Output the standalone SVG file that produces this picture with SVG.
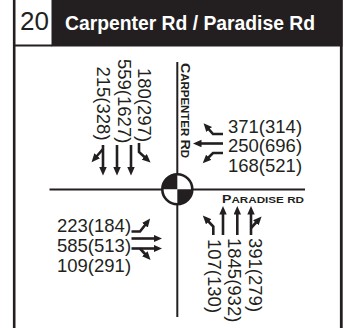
<svg xmlns="http://www.w3.org/2000/svg" width="344" height="328" viewBox="0 0 344 328">
<style>
.num{font-family:"Liberation Sans",Arial,sans-serif;font-size:18.5px;fill:#231f20}
.road{font-family:"Liberation Sans",Arial,sans-serif;font-weight:bold;fill:#231f20}
.ln{stroke:#231f20;stroke-width:2;fill:none}
.arr{stroke:#231f20;stroke-width:2.6;fill:none;marker-end:url(#ah)}
</style>
<defs>
<marker id="ah" markerUnits="userSpaceOnUse" markerWidth="9" markerHeight="8" refX="1" refY="3.75" orient="auto">
<path d="M0,0 L8.5,3.75 L0,7.5 z" fill="#231f20"/>
</marker>
</defs>
<rect width="344" height="328" fill="#fff"/>
<g id="frame">
<rect x="51.5" y="0" width="291" height="46.5" fill="#231f20"/>
<line x1="14.2" y1="0" x2="14.2" y2="328" stroke="#231f20" stroke-width="2.6"/>
<line x1="341.3" y1="0" x2="341.3" y2="328" stroke="#231f20" stroke-width="2.8"/>
<line x1="14" y1="45.5" x2="52" y2="45.5" stroke="#231f20" stroke-width="2"/>
<text x="20" y="30" font-family="Liberation Sans, Arial, sans-serif" font-size="26" fill="#231f20">20</text>
<text x="65" y="29.5" font-family="Liberation Sans, Arial, sans-serif" font-size="19.5" font-weight="bold" fill="#fff" textLength="250" lengthAdjust="spacingAndGlyphs">Carpenter Rd / Paradise Rd</text>
</g>
<g id="roads">
<line class="ln" x1="177.3" y1="62" x2="177.3" y2="317"/>
<line class="ln" x1="49.5" y1="189.5" x2="305" y2="189.5"/>
<text class="road" transform="translate(180.8,63) rotate(90)" textLength="95" lengthAdjust="spacingAndGlyphs"><tspan font-size="13">C</tspan><tspan font-size="10.5">ARPENTER </tspan><tspan font-size="13">R</tspan><tspan font-size="10.5">D</tspan></text>
<text class="road" x="222" y="202.5" textLength="82" lengthAdjust="spacingAndGlyphs"><tspan font-size="11.5">P</tspan><tspan font-size="9.5">ARADISE RD</tspan></text>
</g>
<g id="intersection">
<circle cx="177.3" cy="189.3" r="15" fill="#fff" stroke="#231f20" stroke-width="2.6"/>
<path d="M177.3,189.3 L162.3,189.3 A15,15 0 0 1 177.3,174.3 z" fill="#231f20"/>
<path d="M177.3,189.3 L192.3,189.3 A15,15 0 0 1 177.3,204.3 z" fill="#231f20"/>
</g>
<g id="north">
<text class="num" transform="translate(97,66.5) rotate(90)">215(328)</text>
<text class="num" transform="translate(117.5,59) rotate(90)">559(1627)</text>
<text class="num" transform="translate(137.5,68) rotate(90)">180(297)</text>
</g>
<g id="east">
<text class="num" x="228" y="132.7">371(314)</text>
<text class="num" x="228" y="151.7">250(696)</text>
<text class="num" x="228" y="171.7">168(521)</text>
</g>
<g id="south">
<text class="num" transform="translate(208,239) rotate(90)">107(130)</text>
<text class="num" transform="translate(228,238) rotate(90)">1845(932)</text>
<text class="num" transform="translate(249,238) rotate(90)">391(279)</text>
</g>
<g id="west">
<text class="num" x="57" y="231.7">223(184)</text>
<text class="num" x="57" y="251.7">585(513)</text>
<text class="num" x="57" y="271.7">109(291)</text>
</g>
<g id="connectors">
<path class="arr" d="M103,145 V168"/>
<path class="arr" d="M103,149 L96.5,156.5"/>
<path class="arr" d="M117,145 V168"/>
<path class="arr" d="M131,145 V168"/>
<path class="arr" d="M139,143 V152 L145,157.5"/>
<path class="arr" d="M223,134 H213 L208.5,128.8"/>
<path class="arr" d="M223,143.5 H200.5"/>
<path class="arr" d="M223,153 H213 L208,158"/>
<path class="arr" d="M131.5,231.5 H140 L145.5,224.5"/>
<path class="arr" d="M131.5,238.5 H154.5"/>
<path class="arr" d="M131.5,248.5 H154.5"/>
<path class="arr" d="M140,248.5 L145.5,254.5"/>
<path class="arr" d="M213.3,235 V226.5 L208,221"/>
<path class="arr" d="M223,235 V213.5"/>
<path class="arr" d="M237.3,235 V213.5"/>
<path class="arr" d="M251,235 V213.5"/>
<path class="arr" d="M251,228 L256.5,222"/>
</g>
</svg>
